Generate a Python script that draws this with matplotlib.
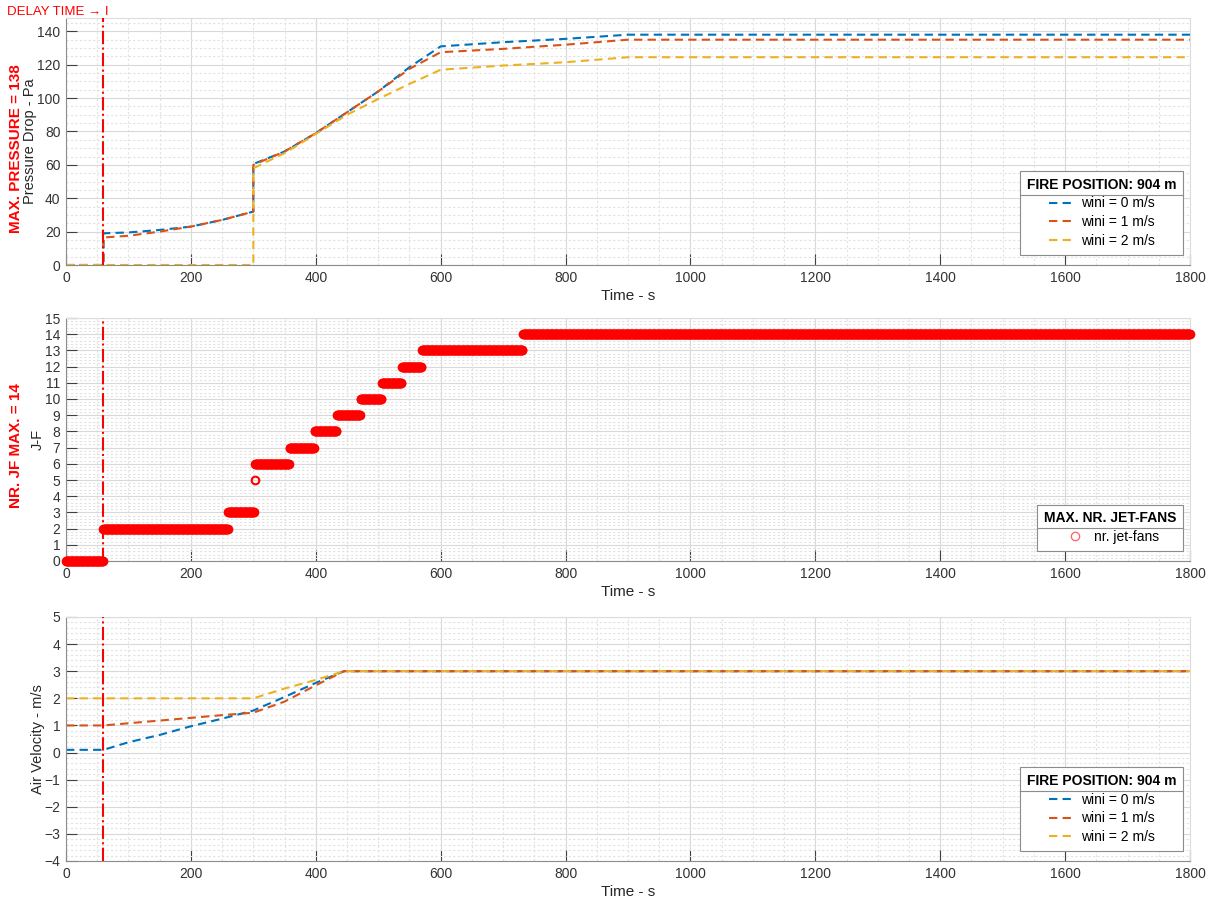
import numpy as np
import matplotlib.pyplot as plt
from matplotlib.lines import Line2D
from matplotlib.ticker import MultipleLocator

plt.rcParams['font.family'] = ['Liberation Sans', 'DejaVu Sans']
plt.rcParams['font.size'] = 10

# pressure drop vs time (three initial air velocities)
t_p = [0, 60, 60, 100, 150, 200, 250, 300, 300, 350, 400, 450, 500, 550, 600, 700, 800, 900, 1800]
p_w0 = [0, 0, 19, 19.5, 21, 23, 27, 32, 60.5, 68, 79, 91.5, 104, 118.5, 131, 133.5, 135.5, 138, 138]
p_w1 = [0, 0, 16.5, 17.5, 20, 23, 27, 32, 60, 68, 79, 91.5, 104, 117.5, 127.5, 129.5, 132, 135, 135]
p_w2 = [0, 0, 0, 0, 0, 0, 0, 0, 58, 67, 78.5, 90, 99.5, 108.5, 117, 119.5, 121.5, 124.5, 124.5]

# number of jet-fans switched on: start time of each step and its level
jf_start = [0, 60, 260, 302, 303, 358, 398, 434, 472, 506, 538, 570, 732]
jf_level = [0, 2, 3, 5, 6, 7, 8, 9, 10, 11, 12, 13, 14]

# air velocity vs time
t_v = [0, 60, 100, 150, 200, 250, 300, 350, 400, 445, 1800]
v_w0 = [0.1, 0.1, 0.38, 0.65, 0.97, 1.25, 1.55, 2.05, 2.57, 3.0, 3.0]
v_w1 = [1.0, 1.0, 1.08, 1.18, 1.28, 1.38, 1.47, 1.88, 2.48, 3.0, 3.0]
v_w2 = [2.0, 2.0, 2.0, 2.0, 2.0, 2.0, 2.0, 2.36, 2.68, 3.0, 3.0]

delay = 60
labels = ['wini = 0 m/s', 'wini = 1 m/s', 'wini = 2 m/s']
colors = ['#0072BD', '#D95319', '#EDB120']
t_end = 1800

# expand the jet-fan steps to one sample per second
t_jf = np.arange(0, t_end + 1, 1)
idx = np.searchsorted(jf_start, t_jf, side='right') - 1
n_jf = np.array(jf_level)[idx]

W, H = 1215, 907
fig = plt.figure(figsize=(W / 100, H / 100), dpi=100)
left, width = 66 / W, 1124 / W
ax1 = fig.add_axes([left, 1 - 265 / H, width, 247 / H])
ax2 = fig.add_axes([left, 1 - 561 / H, width, 243 / H])
ax3 = fig.add_axes([left, 1 - 861 / H, width, 244 / H])


def style(ax, ymaj, ymin):
    ax.set_xlim(0, t_end)
    ax.xaxis.set_major_locator(MultipleLocator(200))
    ax.xaxis.set_minor_locator(MultipleLocator(50))
    ax.yaxis.set_major_locator(MultipleLocator(ymaj))
    ax.yaxis.set_minor_locator(MultipleLocator(ymin))
    ax.grid(which='major', color='#d9d9d9', lw=0.8, ls='-')
    ax.grid(which='minor', color='#e2e2e2', lw=0.8, ls=(0, (2, 2)))
    ax.set_axisbelow(True)
    ax.tick_params(which='major', direction='in', length=8, width=0.8,
                   color='#404040', labelcolor='#333333', labelsize=10, pad=4)
    ax.tick_params(which='minor', length=0)
    for s in ['left', 'bottom']:
        ax.spines[s].set_color('#8c8c8c')
    for s in ['top', 'right']:
        ax.spines[s].set_color('#dcdcdc')
    ax.set_xlabel('Time - s', fontsize=11, color='#262626', labelpad=3)
    ax.axvline(delay, color='red', ls='-.', lw=1.5, zorder=4)


def add_legend(ax, handles, names, title):
    leg = ax.legend(handles, names, title=title, loc='lower right',
                    bbox_to_anchor=(0.994, 0.04), borderaxespad=0,
                    fancybox=False, framealpha=1, edgecolor='#8c8c8c',
                    handlelength=2.0, handletextpad=0.3, fontsize=10,
                    title_fontproperties={'weight': 'bold', 'size': 10},
                    borderpad=0.5, labelspacing=0.35)
    leg.get_frame().set_linewidth(0.8)
    leg._legend_box.align = 'center'
    return leg


# pressure drop
style(ax1, 20, 5)
ax1.set_ylim(0, 148)
lines = []
for y, c, lb in zip([p_w0, p_w1, p_w2], colors, labels):
    ln, = ax1.plot(t_p, y, color=c, lw=1.5, ls=(0, (4, 2.5)), label=lb)
    lines.append(ln)
ax1.set_ylabel('Pressure Drop - Pa', fontsize=10.5, color='#262626')
ax1.yaxis.set_label_coords(-0.026, 0.5)
leg1 = add_legend(ax1, lines, labels, 'FIRE POSITION: 904 m')

# jet-fans
style(ax2, 1, 0.2)
ax2.set_ylim(0, 15)
ax2.plot(t_jf, n_jf, ls='none', marker='o', ms=5.5, mfc='none', mec='red',
         mew=1.5, zorder=5, clip_on=False)
ax2.set_ylabel('J-F', fontsize=10.5, color='#262626')
ax2.yaxis.set_label_coords(-0.019, 0.5)
jf_handle = Line2D([], [], ls='none', marker='o', ms=6, mfc='none',
                   mec='#ff6060', mew=0.9)
leg2 = add_legend(ax2, [jf_handle], ['nr. jet-fans'], 'MAX. NR. JET-FANS')

# air velocity
style(ax3, 1, 0.2)
ax3.set_ylim(-4, 5)
lines3 = []
for y, c, lb in zip([v_w0, v_w1, v_w2], colors, labels):
    ln, = ax3.plot(t_v, y, color=c, lw=1.5, ls=(0, (4, 2.5)), label=lb)
    lines3.append(ln)
ax3.set_ylabel('Air Velocity - m/s', fontsize=10.5, color='#262626')
ax3.yaxis.set_label_coords(-0.019, 0.5)
leg3 = add_legend(ax3, lines3, labels, 'FIRE POSITION: 904 m')

# red annotations
fig.text(16 / W, 1 - 149 / H, 'MAX. PRESSURE = 138', color='red', fontsize=11,
         fontweight='bold', rotation=90, ha='center', va='center')
fig.text(16 / W, 1 - 446 / H, 'NR. JF MAX. = 14', color='red', fontsize=11,
         fontweight='bold', rotation=90, ha='center', va='center')
fig.text(7 / W, 1 - 12 / H, 'DELAY TIME \u2192 I', color='red', fontsize=9.5,
         ha='left', va='center')

# separator line under each legend title
fig.canvas.draw()
renderer = fig.canvas.get_renderer()
for leg in [leg1, leg2, leg3]:
    fb = leg.get_frame().get_window_extent(renderer)
    tb = leg.get_title().get_window_extent(renderer)
    ysep = tb.y0 - 3
    fig.add_artist(Line2D([fb.x0 / W, fb.x1 / W], [ysep / H, ysep / H],
                          transform=fig.transFigure, color='#8c8c8c', lw=0.8))

fig.savefig('out.png', dpi=100)
